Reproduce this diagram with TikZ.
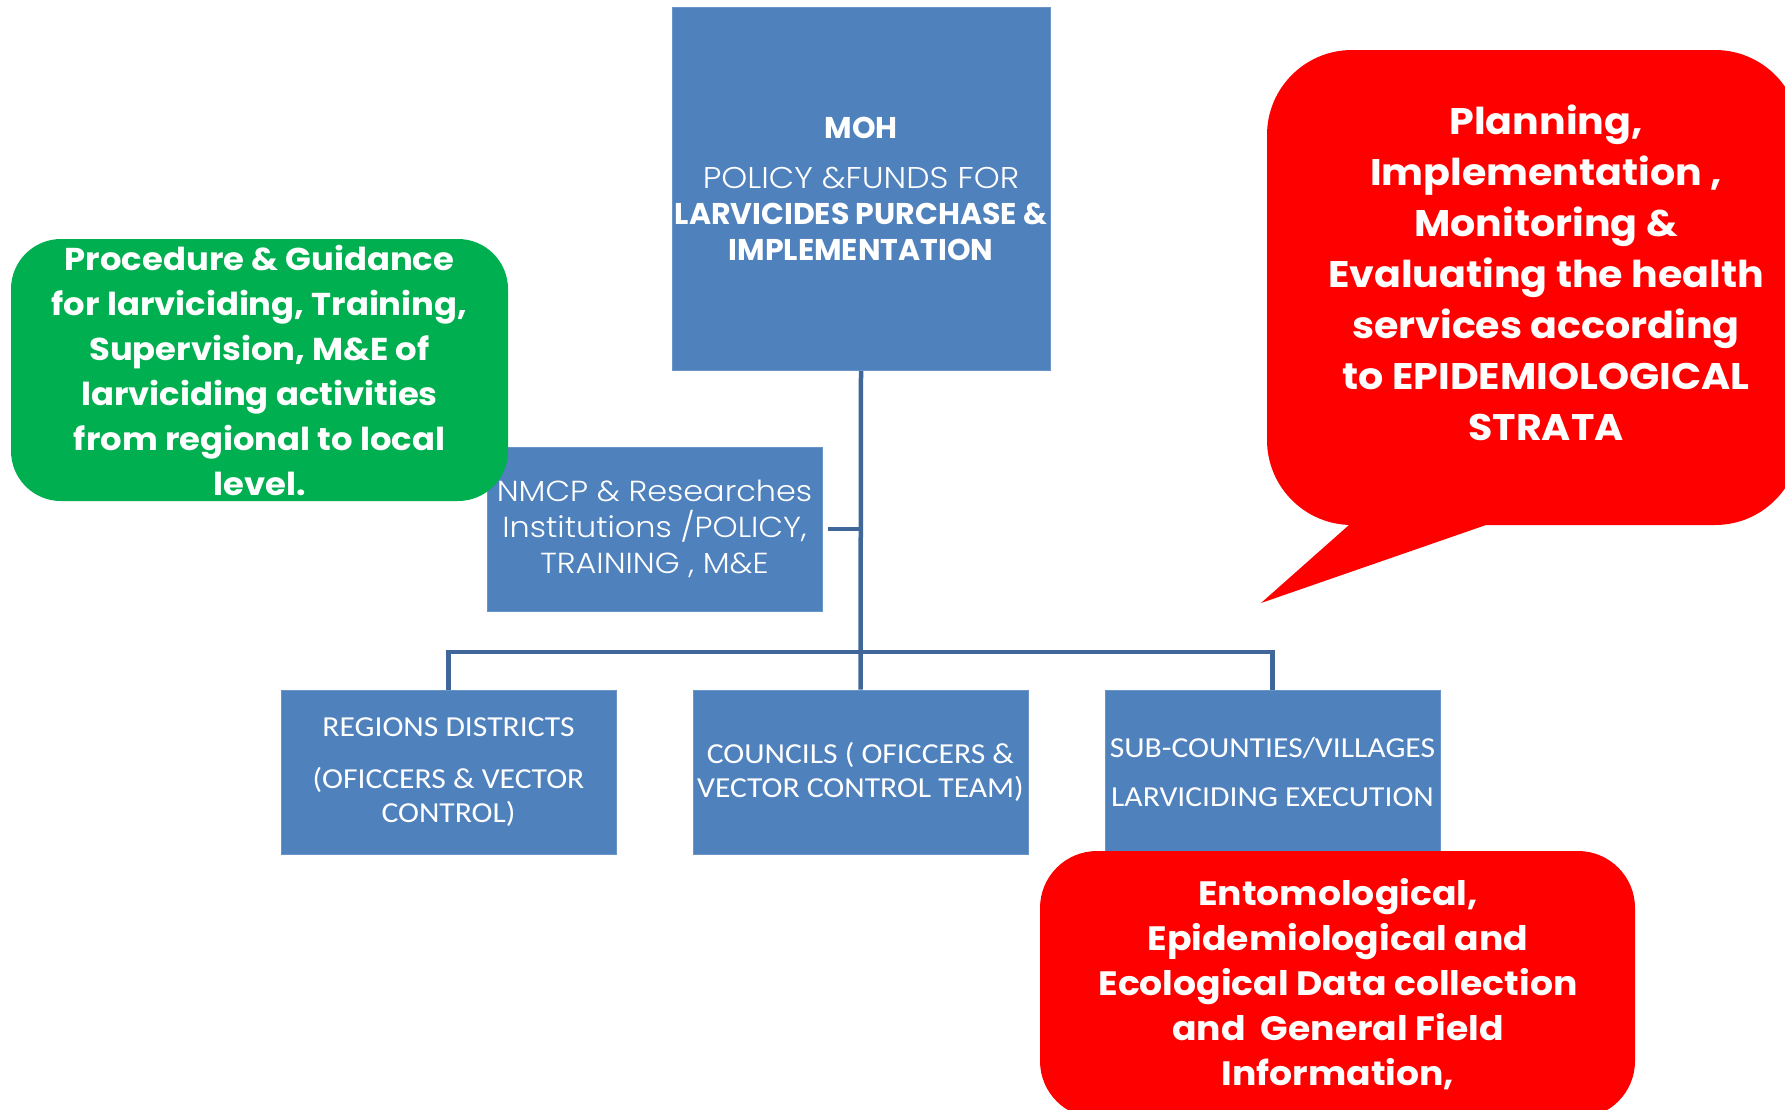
\documentclass[tikz,border=0pt]{standalone}
\usepackage{fontspec}
\setmainfont{Poppins}
\newfontfamily\cglight{Poppins Light}[FakeStretch=1.10]
\newfontfamily\cgb{Poppins}[FakeStretch=1.07]
\newfontfamily\calib{Carlito}[FakeStretch=1.09]
\definecolor{boxblue}{HTML}{4F81BD}
\definecolor{linkblue}{HTML}{41679A}
\definecolor{okgreen}{HTML}{00B050}
\definecolor{alertred}{HTML}{FF0000}
\tikzset{
  bluebox/.style={fill=boxblue, draw=boxblue!85!white, line width=1pt, text=white, align=center, inner sep=0pt},
  conn/.style={draw=linkblue, line width=4.5pt},
  txtwhite/.style={text=white, align=center, inner sep=0pt},
}
\begin{document}
\begin{tikzpicture}[x=1pt, y=-1pt]
\path[use as bounding box] (0,0) rectangle (1785,1109);
\clip (0,0) rectangle (1785,1109);
\fill[white] (0,0) rectangle (1785,1109);

\node[bluebox, minimum width=378pt, minimum height=363pt,
  font=\fontsize{30}{36}\selectfont] (moh) at (861,189)
  {{\bfseries MOH}\\[14pt]{\cglight POLICY \&FUNDS FOR}\\{\bfseries LARVICIDES PURCHASE \&}\\{\bfseries IMPLEMENTATION}};

\node[bluebox, minimum width=335pt, minimum height=164pt,
  font=\cglight\fontsize{29}{36}\selectfont] (nmcp) at (654.5,529)
  {NMCP \& Researches\\Institutions /POLICY,\\TRAINING , M\&E};

\node[bluebox, minimum width=335pt, minimum height=164pt,
  font=\calib\fontsize{29}{34}\selectfont] (b1) at (448.5,772)
  {REGIONS DISTRICTS\\[18pt](OFICCERS \& VECTOR\\CONTROL)};
\node[bluebox, minimum width=335pt, minimum height=164pt,
  font=\calib\fontsize{29}{34}\selectfont] (b2) at (860.5,772)
  {COUNCILS ( OFICCERS \&\\VECTOR CONTROL TEAM)};
\node[bluebox, minimum width=335pt, minimum height=164pt,
  font=\calib\fontsize{29}{34}\selectfont] (b3) at (1272.5,772)
  {SUB-COUNTIES/VILLAGES\\[15pt]LARVICIDING EXECUTION};

\coordinate (bus) at (860,652);
\draw[conn] (moh.south) -- (b2.north);
\draw[conn] (b1.north) -- (b1.north |- bus) -- (b3.north |- bus) -- (b3.north);
\draw[conn, shorten <=5pt] (nmcp.east) -- (nmcp.east -| moh.south);

% green note
\node[fill=okgreen, rounded corners=50pt, minimum width=497pt, minimum height=262pt,
  txtwhite, font=\cgb\bfseries\fontsize{31.6}{45}\selectfont] (green) at (259.5,370)
  {Procedure \& Guidance\\for larviciding, Training,\\Supervision, M\&E of\\larviciding activities\\from regional to local\\level.};

% speech bubble
\coordinate (tailA) at (1349,525);
\coordinate (tip) at (1261,603);
\coordinate (tailB) at (1486,525);
\fill[alertred] (tailA) -- (tip) -- (tailB) [rounded corners=85pt] -- (1800,525) -- (1800,50) -- (1267,50) -- (1267,525) [sharp corners] -- (tailA) -- cycle;
\node[txtwhite, font=\cgb\bfseries\fontsize{37}{51}\selectfont] (plan) at (1546,273)
  {Planning,\\Implementation ,\\Monitoring \&\\Evaluating the health\\services according\\to EPIDEMIOLOGICAL\\STRATA};

% bottom red box
\node[fill=alertred, rounded corners=57pt, minimum width=595pt, minimum height=267pt,
  inner sep=0pt] (entbox) at (1337.5,984.5) {};
\node[txtwhite, font=\cgb\bfseries\fontsize{33.8}{45}\selectfont] (ent) at (1338,984)
  {Entomological,\\Epidemiological and\\Ecological Data collection\\and\ \ General Field\\Information,};
\end{tikzpicture}
\end{document}
